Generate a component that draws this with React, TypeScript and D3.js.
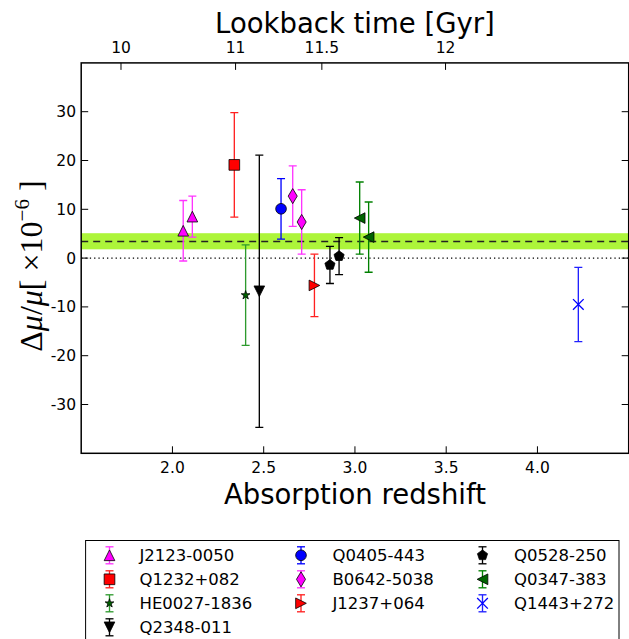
import React from "react";
import * as d3 from "d3";

// ---- data ----
const pointSource = [
  "J2123-0050", "J2123-0050", "Q1232+082", "HE0027-1836", "Q2348-011",
  "Q0405-443", "B0642-5038", "B0642-5038", "J1237+064", "Q0528-250",
  "Q0528-250", "Q0347-383", "Q0347-383", "Q1443+272",
];
const pointZ = [2.059, 2.109, 2.339, 2.401, 2.476, 2.595, 2.659, 2.708, 2.778, 2.863, 2.913, 3.026, 3.075, 4.224];
const pointDmu = [5.6, 8.5, 19.1, -7.6, -6.8, 10.1, 12.7, 7.4, -5.6, -1.4, 0.4, 8.2, 4.3, -9.5];
const pointErr = [6.2, 4.2, 10.7, 10.3, 27.9, 6.2, 6.2, 6.6, 6.4, 3.8, 3.8, 7.4, 7.2, 7.6];

const legendNames = [
  "J2123-0050", "Q1232+082", "HE0027-1836", "Q2348-011",
  "Q0405-443", "B0642-5038", "J1237+064",
  "Q0528-250", "Q0347-383", "Q1443+272",
];
const legendMarkers = ["triUp", "square", "star", "triDown", "circle", "thinDiamond", "triRight", "pentagon", "triLeft", "x"];
const legendFill = ["#ff00ff", "#ff0000", "#006400", "#000000", "#0000ff", "#ff00ff", "#ff0000", "#000000", "#006400", "#0000ff"];
const legendBar = ["#ff33ff", "#ff2020", "#2e9a2e", "#000000", "#0000ff", "#ff33ff", "#ff2020", "#000000", "#008000", "#2020ff"];

const meanValue = 3.4;
const bandLow = 1.8;
const bandHigh = 5.1;

const xTicks = [2.0, 2.5, 3.0, 3.5, 4.0];
const yTicks = [30, 20, 10, 0, -10, -20, -30];
const lookbackTicks = [10, 11, 11.5, 12];
const lookbackLabels = ["10", "11", "11.5", "12"];

// flat LCDM cosmology for lookback time
const H0 = 68.2;
const Om = 0.3;
const OL = 1 - Om;
function ageAt(z: number) {
  const tH = 977.8 / H0;
  const f = (2 / (3 * Math.sqrt(OL))) * tH;
  return f * Math.asinh(Math.sqrt(OL / Om) * Math.pow(1 + z, -1.5));
}
function lookback(z: number) {
  return ageAt(0) - ageAt(z);
}
function zForLookback(t: number) {
  let lo = 0, hi = 20;
  for (let i = 0; i < 80; i++) {
    const m = (lo + hi) / 2;
    if (lookback(m) < t) lo = m; else hi = m;
  }
  return (lo + hi) / 2;
}

// ---- layout ----
const W = 629, H = 639;
const left = 81.2, right = 628.7, top = 62.9, bottom = 453.3;
const x = d3.scaleLinear().domain([1.5, 4.5]).range([left, right]);
const y = d3.scaleLinear().domain([-40, 40]).range([bottom, top]);
const MS = 10.67;

function markerPath(kind: string, s: number): string {
  const h = s / 2;
  switch (kind) {
    case "triUp": return `M0,${-h}L${-h},${h}L${h},${h}Z`;
    case "triDown": return `M0,${h}L${-h},${-h}L${h},${-h}Z`;
    case "triRight": return `M${h},0L${-h},${-h}L${-h},${h}Z`;
    case "triLeft": return `M${-h},0L${h},${-h}L${h},${h}Z`;
    case "square": return `M${-h},${-h}H${h}V${h}H${-h}Z`;
    case "circle": return `M${h},0A${h},${h} 0 1,1 ${-h},0A${h},${h} 0 1,1 ${h},0Z`;
    case "thinDiamond": {
      const hh = 0.7071 * s, ww = 0.6 * hh;
      return `M0,${-hh}L${ww},0L0,${hh}L${-ww},0Z`;
    }
    case "star": {
      const r = 0.43 * s, ri = r * 0.381966;
      const pts: string[] = [];
      for (let i = 0; i < 10; i++) {
        const a = -Math.PI / 2 + (i * Math.PI) / 5;
        const rr = i % 2 === 0 ? r : ri;
        pts.push(`${(rr * Math.cos(a)).toFixed(2)},${(rr * Math.sin(a)).toFixed(2)}`);
      }
      return "M" + pts.join("L") + "Z";
    }
    case "pentagon": {
      const pts: string[] = [];
      for (let i = 0; i < 5; i++) {
        const a = -Math.PI / 2 + (i * 2 * Math.PI) / 5;
        pts.push(`${(h * Math.cos(a)).toFixed(2)},${(h * Math.sin(a)).toFixed(2)}`);
      }
      return "M" + pts.join("L") + "Z";
    }
    case "x": return `M${-h},${-h}L${h},${h}M${-h},${h}L${h},${-h}`;
  }
  return "";
}

function Marker({ kind, fill, cx, cy }: { kind: string; fill: string; cx: number; cy: number }) {
  const d = markerPath(kind, MS);
  if (kind === "x") {
    return <path d={d} transform={`translate(${cx},${cy})`} fill="none" stroke={fill} strokeWidth={1.33} />;
  }
  return <path d={d} transform={`translate(${cx},${cy})`} fill={fill} stroke="#000" strokeWidth={0.8} strokeLinejoin="miter" />;
}

function ErrBar({ cx, y1, y2, color }: { cx: number; y1: number; y2: number; color: string }) {
  const cap = 4;
  return (
    <g stroke={color} strokeWidth={1.33} fill="none">
      <line x1={cx} x2={cx} y1={y1} y2={y2} />
      <line x1={cx - cap} x2={cx + cap} y1={y1} y2={y1} />
      <line x1={cx - cap} x2={cx + cap} y1={y2} y2={y2} />
    </g>
  );
}

export default function App() {
  const font = "'DejaVu Sans', sans-serif";
  const tickLen = 7;
  const legendColX = [109.5, 301, 482.5];
  const legendTextX = [139.5, 332.5, 514];
  const legendRowY = [555.3, 579.3, 603.3, 627.3];
  const perCol = [4, 3, 3];

  const legendItems: { col: number; row: number; idx: number }[] = [];
  let k = 0;
  perCol.forEach((n, c) => {
    for (let r = 0; r < n; r++) legendItems.push({ col: c, row: r, idx: k++ });
  });

  return (
    <div>
      <style>{"body{margin:0;} svg{display:block;}"}</style>
      <svg width={W} height={H} viewBox={`0 0 ${W} ${H}`} style={{ fontFamily: font }}>
        <rect x={0} y={0} width={W} height={H} fill="#fff" />
        <defs>
          <clipPath id="plotclip">
            <rect x={left} y={top} width={right - left} height={bottom - top} />
          </clipPath>
        </defs>
        <g clipPath="url(#plotclip)">
          <rect x={left} width={right - left} y={y(bandHigh)} height={y(bandLow) - y(bandHigh)} fill="#adf53a" />
          <line x1={left} x2={right} y1={y(meanValue)} y2={y(meanValue)} stroke="#222" strokeWidth={1.5} strokeDasharray="7,5" />
          <line x1={left} x2={right} y1={y(0)} y2={y(0)} stroke="#000" strokeWidth={1.3} strokeDasharray="1.3,3" />
          {pointZ.map((z, i) => {
            const li = legendNames.indexOf(pointSource[i]);
            return (
              <ErrBar key={"e" + i} cx={x(z)} y1={y(pointDmu[i] + pointErr[i])} y2={y(pointDmu[i] - pointErr[i])} color={legendBar[li]} />
            );
          })}
          {pointZ.map((z, i) => {
            const li = legendNames.indexOf(pointSource[i]);
            return <Marker key={"m" + i} kind={legendMarkers[li]} fill={legendFill[li]} cx={x(z)} cy={y(pointDmu[i])} />;
          })}
        </g>

        {/* frame */}
        <rect x={left} y={top} width={right - left} height={bottom - top} fill="none" stroke="#000" strokeWidth={1.5} />

        {/* bottom ticks */}
        {xTicks.map((t) => (
          <g key={"xt" + t}>
            <line x1={x(t)} x2={x(t)} y1={bottom} y2={bottom - tickLen} stroke="#000" strokeWidth={1} />
            <text x={x(t)} y={473} textAnchor="middle" fontSize={15.5}>{t.toFixed(1)}</text>
          </g>
        ))}
        {/* y ticks */}
        {yTicks.map((t) => (
          <g key={"yt" + t}>
            <line x1={left} x2={left + tickLen} y1={y(t)} y2={y(t)} stroke="#000" strokeWidth={1} />
            <line x1={right} x2={right - tickLen} y1={y(t)} y2={y(t)} stroke="#000" strokeWidth={1} />
            <text x={76} y={y(t)} dy="0.36em" textAnchor="end" fontSize={15.5}>{t}</text>
          </g>
        ))}
        {/* top lookback ticks */}
        {lookbackTicks.map((t, i) => {
          const px = x(zForLookback(t));
          return (
            <g key={"lt" + t}>
              <line x1={px} x2={px} y1={top} y2={top + tickLen} stroke="#000" strokeWidth={1} />
              <text x={px} y={53} textAnchor="middle" fontSize={15.5}>{lookbackLabels[i]}</text>
            </g>
          );
        })}

        <text x={(left + right) / 2} y={33} textAnchor="middle" fontSize={27.5}>Lookback time [Gyr]</text>
        <text x={(left + right) / 2} y={504} textAnchor="middle" fontSize={27.5}>Absorption redshift</text>

        <text transform={`translate(42,${(top + bottom) / 2 + 8}) rotate(-90)`} textAnchor="middle" fontSize={32} fontFamily="'Liberation Serif', serif">
          <tspan>Δ</tspan>
          <tspan fontStyle="italic">μ</tspan>
          <tspan>/</tspan>
          <tspan fontStyle="italic">μ</tspan>
          <tspan>[ ×10</tspan>
          <tspan fontSize={21} dy={-13}>−6</tspan>
          <tspan dy={13}> ]</tspan>
        </text>

        {/* legend */}
        <rect x={85.6} y={540.5} width={619 - 85.6} height={115} fill="#fff" stroke="#000" strokeWidth={1} />
        {legendItems.map(({ col, row, idx }) => {
          const cx = legendColX[col];
          const cy = legendRowY[row];
          return (
            <g key={"lg" + idx}>
              <ErrBar cx={cx} y1={cy - 8.5} y2={cy + 8.5} color={legendBar[idx]} />
              <Marker kind={legendMarkers[idx]} fill={legendFill[idx]} cx={cx} cy={cy} />
              <text x={legendTextX[col]} y={cy} dy="0.36em" fontSize={16.5}>{legendNames[idx]}</text>
            </g>
          );
        })}
      </svg>
    </div>
  );
}
